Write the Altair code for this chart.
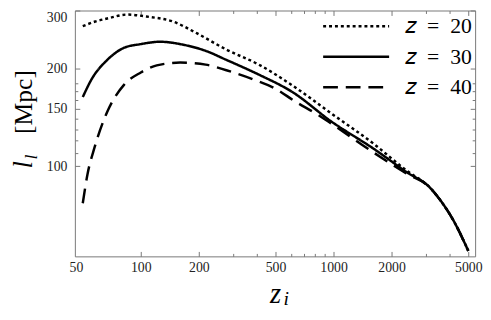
import altair as alt
import pandas as pd

# --- data ---
z20_x = [50, 58, 67, 85, 107, 147, 195, 278, 410, 611, 977, 1620, 2390, 3160, 3560, 4140, 5000]
z20_y = [269, 278, 284, 292, 288, 278, 256, 228, 205, 177, 145, 117, 97, 86, 79, 69, 55]
z30_x = [50, 55.6, 67, 82, 100, 126, 166, 217, 278, 410, 611, 977, 1620, 2390, 3160, 3560, 4140, 5000]
z30_y = [163, 185, 212, 231, 237, 241, 236, 226, 212, 191, 169, 137, 113, 96, 86, 79, 69, 55]
z40_x = [50, 53, 57.5, 67, 82, 100, 121, 160, 217, 278, 381, 500, 632, 827, 977, 1620, 2390, 3160, 3560, 4140, 5000]
z40_y = [77, 95, 114, 147, 178, 194, 204, 208, 205, 197, 185, 173, 158, 144, 135, 110, 95, 86, 79, 69, 55]
series_labels = ["\U0001D467\u2002=\u200220", "\U0001D467\u2002=\u200230", "\U0001D467\u2002=\u200240"]

x_major = [50, 100, 200, 500, 1000, 2000, 5000]
x_top_major = [100, 200, 500, 1000, 2000, 5000]
x_minor = [300, 400, 600, 700, 800, 900, 3000, 4000]
y_major = [100, 150, 200, 300]
y_minor = [110, 120, 130, 140, 160, 170, 180]

rows = []
for lab, xs_, ys_ in zip(series_labels, [z20_x, z30_x, z40_x], [z20_y, z30_y, z40_y]):
    for a, b in zip(xs_, ys_):
        rows.append({"zi": a, "ll": b, "series": lab})
df = pd.DataFrame(rows)

FONT = "Liberation Serif"
FRAME = "#777777"

xscale = alt.Scale(type="log", domain=[45.5, 5425], nice=False)
yscale = alt.Scale(type="log", domain=[52.9, 300.5], nice=False)


def axis(orient, values, size, labels, **kw):
    return alt.Axis(
        orient=orient, values=values, labels=labels, domain=False, grid=False,
        title=None, tickSize=alt.ExprRef(expr=str(-size)), tickWidth=1,
        labelFont=FONT, labelFontSize=14, labelColor="#222222", format="d", **kw)


xb = axis("bottom", x_major, 5, True, labelPadding=9,
          tickColor={"condition": {"test": "datum.value == 50", "value": "transparent"}, "value": FRAME},
          labelAlign={"condition": {"test": "datum.value == 50", "value": "right"}, "value": "center"})
yl = axis("left", y_major, 5, True, labelPadding=13, tickColor=FRAME,
          labelBaseline={"condition": {"test": "datum.value == 300", "value": "top"}, "value": "middle"})

lines = alt.Chart(df).mark_line(color="black", strokeWidth=2.5, strokeCap="butt",
                                interpolate="monotone").encode(
    x=alt.X("zi:Q", scale=xscale, axis=xb),
    y=alt.Y("ll:Q", scale=yscale, axis=yl),
    strokeDash=alt.StrokeDash(
        "series:N",
        scale=alt.Scale(domain=series_labels, range=[[3, 3], [1, 0], [15, 8]]),
        legend=alt.Legend(
            orient="none", legendX=275, legendY=5, title=None,
            symbolType="M-6,0H6", symbolSize=125, symbolStrokeColor="black",
            symbolStrokeWidth=2.5, labelFont=FONT, labelFontSize=22,
            labelColor="black", labelOffset=39, rowPadding=9, padding=0,
        ),
    ),
    detail="series:N",
)


def ghost(xax, yax):
    return alt.Chart(df).mark_point(opacity=0).encode(
        x=alt.X("zi:Q", scale=xscale, axis=xax),
        y=alt.Y("ll:Q", scale=yscale, axis=yax),
    )


g1 = ghost(axis("bottom", x_minor, 3, False, tickColor=FRAME),
           axis("left", y_minor, 3, False, tickColor=FRAME))
g2 = ghost(axis("top", x_top_major, 5, False, tickColor=FRAME),
           axis("right", y_major, 5, False, tickColor=FRAME))
g3 = ghost(axis("top", x_minor, 3, False, tickColor=FRAME),
           axis("right", y_minor, 3, False, tickColor=FRAME))

tdf = pd.DataFrame({"t": [0]})


def txt(text, x, y, size, style, angle=0):
    return alt.Chart(tdf).mark_text(
        text=text, font=FONT, fontSize=size, fontStyle=style, angle=angle,
        align="center", baseline="alphabetic", color="black"
    ).encode(x=alt.value(x), y=alt.value(y))


titles = [
    txt("[Mpc]", -44, 93, 26, "normal", 270),
    txt("l", -44, 157, 27, "italic", 270),
    txt("l", -39, 149, 18, "italic", 270),
    txt("z", 204, 297, 29, "italic"),
    txt("i", 215, 299, 20, "italic"),
]

chart = alt.layer(g1, g2, g3, lines, *titles).resolve_axis(
    x="independent", y="independent"
).properties(
    width=407, height=250,
    autosize=alt.AutoSizeParams(type="none"),
    padding={"left": 68, "top": 0, "right": 8, "bottom": 54},
).configure_view(stroke=FRAME, strokeWidth=1)

chart.save("out.html", embed_options={"renderer": "svg", "actions": False})
